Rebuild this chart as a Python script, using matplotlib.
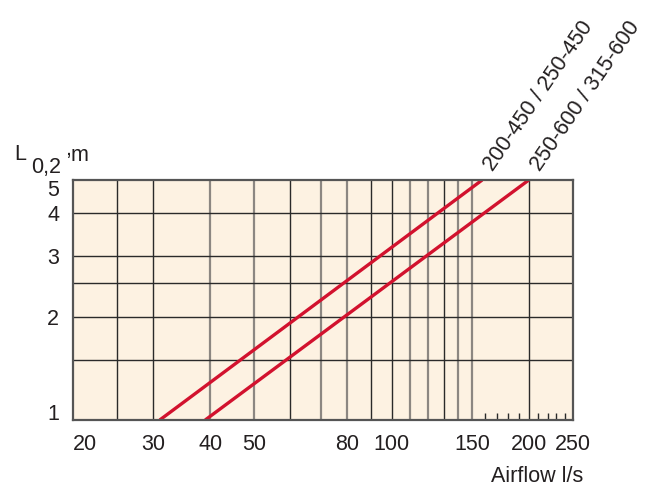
import matplotlib
matplotlib.use("Agg")
import matplotlib.pyplot as plt
from matplotlib.ticker import FixedLocator, NullFormatter

plt.rcParams['font.family'] = ['Liberation Sans', 'DejaVu Sans']

# data
x_ticks = [20, 30, 40, 50, 80, 100, 150, 200, 250]
y_ticks = [1, 2, 3, 4, 5]
x_grid_dark = [25, 30, 60, 90, 100, 130, 200]
x_grid_grey = [40, 50, 70, 80, 110, 120, 140, 150]
y_grid = [1.5, 2, 2.5, 3, 4]
x_minor = [160, 170, 180, 190, 210, 220, 230, 240]

line1_q = [31, 158]
line1_L = [1, 5]
line2_q = [39, 200]
line2_L = [1, 5]
labels = ["200-450 / 250-450", "250-600 / 315-600"]

txt = '#231f20'
red = '#d2122e'
fs = 15.5

fig = plt.figure(figsize=(6.64, 4.86), dpi=100)
ax = fig.add_axes([73/664, 66/486, 500/664, 240/486])
ax.set_facecolor('#fdf2e2')
ax.set_xscale('log')
ax.set_yscale('log')
ax.set_xlim(20, 250)
ax.set_ylim(1, 5)

for v in x_grid_dark:
    ax.axvline(v, color='#2a2a2a', lw=1.0, zorder=1)
for v in x_grid_grey:
    ax.axvline(v, color='#8c8782', lw=1.6, zorder=1)
for v in y_grid:
    ax.axhline(v, color='#2a2a2a', lw=1.0, zorder=1)

ax.plot(line1_q, line1_L, color=red, lw=2.4, zorder=3, solid_capstyle='butt')
ax.plot(line2_q, line2_L, color=red, lw=2.4, zorder=3, solid_capstyle='butt')

for q, L, lab in [(line1_q[1], line1_L[1], labels[0]), (line2_q[1], line2_L[1], labels[1])]:
    ax.annotate(lab, xy=(q, L), xytext=(8, 6), textcoords='offset points',
                rotation=55.5, rotation_mode='anchor', ha='left', va='baseline',
                fontsize=fs, color=txt, annotation_clip=False)

ax.xaxis.set_major_locator(FixedLocator(x_ticks))
ax.set_xticklabels([str(v) for v in x_ticks])
ax.xaxis.set_minor_locator(FixedLocator(x_minor))
ax.xaxis.set_minor_formatter(NullFormatter())
ax.yaxis.set_major_locator(FixedLocator(y_ticks))
ax.set_yticklabels([str(v) for v in y_ticks])
ax.yaxis.set_minor_locator(FixedLocator([]))

ax.tick_params(axis='x', which='major', length=0, pad=10, labelsize=fs, labelcolor=txt)
ax.tick_params(axis='y', which='major', length=0, pad=10, labelsize=fs, labelcolor=txt)
ax.tick_params(axis='x', which='minor', direction='in', length=5, width=1, color='#2a2a2a')

# end labels sit inside the axis range, as in the reference
ax.get_xticklabels()[0].set_ha('left')
ylabs = ax.get_yticklabels()
ylabs[0].set_va('baseline')
ylabs[-1].set_va('top')

for s in ax.spines.values():
    s.set_color('#555555')
    s.set_linewidth(1.6)
    s.set_zorder(4)

fig.text(583/664, 1 - 482/486, 'Airflow l/s', ha='right', va='baseline', fontsize=fs, color=txt)
fig.text(14/664, 1 - 160/486, 'L', ha='left', va='baseline', fontsize=fs, color=txt)
fig.text(31/664, 1 - 173/486, '0,2', ha='left', va='baseline', fontsize=fs, color=txt)
fig.text(65/664, 1 - 155/486, ',', ha='left', va='baseline', fontsize=fs, color=txt)
fig.text(71/664, 1 - 161/486, 'm', ha='left', va='baseline', fontsize=fs, color=txt)

fig.savefig('out.png', dpi=100)
